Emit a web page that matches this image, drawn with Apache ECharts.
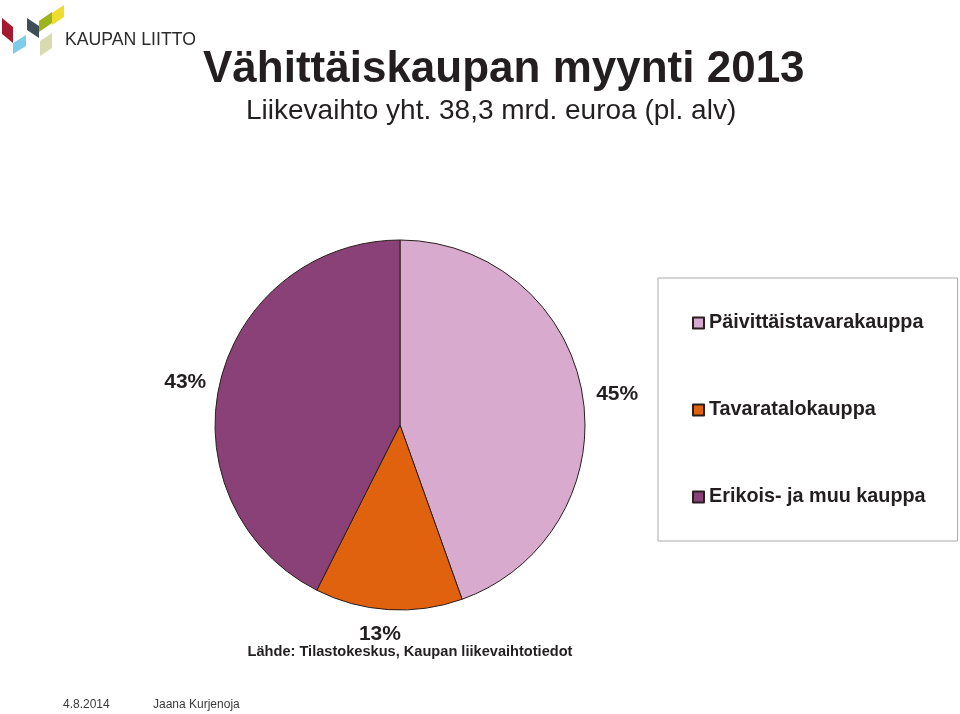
<!DOCTYPE html>
<html>
<head>
<meta charset="utf-8">
<script src="https://cdn.jsdelivr.net/npm/echarts@6/dist/echarts.min.js"></script>
<style>
html,body{margin:0;padding:0;background:#fff;}
#chart{width:960px;height:714px;}
</style>
</head>
<body>
<div id="chart"></div>
<script>
// ---- data ----
const categories = ['Päivittäistavarakauppa', 'Tavaratalokauppa', 'Erikois- ja muu kauppa'];
const shares = [45, 13, 43];
const sliceColors = ['#d8aacd', '#e0620f', '#8a4177'];
const titleText = 'Vähittäiskaupan myynti 2013';
const subtitleText = 'Liikevaihto yht. 38,3 mrd. euroa (pl. alv)';
const sourceText = 'Lähde: Tilastokeskus, Kaupan liikevaihtotiedot';
const footerDate = '4.8.2014';
const footerAuthor = 'Jaana Kurjenoja';
const logoText = 'KAUPAN LIITTO';

const FONT = '"Liberation Sans", Arial, Helvetica, sans-serif';
const TXT = '#231f20';

const chart = echarts.init(document.getElementById('chart'), null, {renderer: 'canvas'});

function poly(points, color) {
  return {type: 'polygon', shape: {points: points}, style: {fill: color}, silent: true};
}

const option = {
  backgroundColor: '#ffffff',
  animation: false,
  legend: {
    orient: 'vertical',
    left: 658,
    top: 278,
    padding: [35, 32, 34, 34],
    itemGap: 67,
    itemWidth: 11,
    itemHeight: 11,
    icon: 'rect',
    borderColor: '#a9a9a9',
    borderWidth: 1,
    textStyle: {fontFamily: FONT, fontSize: 19.8, fontWeight: 'bold', color: TXT, lineHeight: 20},
    data: categories
  },
  series: [{
    type: 'pie',
    center: [400, 425],
    radius: 185,
    startAngle: 90,
    clockwise: true,
    avoidLabelOverlap: false,
    itemStyle: {borderColor: '#2a1e1e', borderWidth: 1},
    label: {
      show: true,
      position: 'outside',
      formatter: '{c}%',
      fontFamily: FONT,
      fontSize: 21,
      fontWeight: 'bold',
      color: TXT,
      distanceToLabelLine: 5
    },
    labelLine: {show: false, length: 9, length2: 0},
    labelLayout: function (p) {
      if (p.dataIndex === 1) return {dx: 18, dy: 16};
      return {dx: 0, dy: 2};
    },
    emphasis: {disabled: true},
    data: categories.map((name, i) => ({name: name, value: shares[i], itemStyle: {color: sliceColors[i]}}))
  }],
  graphic: [
    // logo marks
    poly([[2,18],[13,27],[13,43],[2,34]], '#a5192e'),
    poly([[13,43],[26,35],[26,46],[13,54]], '#7fcbea'),
    poly([[27,18],[39,26],[39,38],[27,30]], '#3e4e59'),
    poly([[39,21],[52,12],[52,23],[39,32]], '#9db41f'),
    poly([[52,13],[64,5],[64,17],[52,25]], '#efdc2e'),
    poly([[40,41],[52,33],[52,48],[40,56]], '#d7dbae'),
    {type: 'text', x: 65, y: 40, scaleX: 0.93, silent: true,
      style: {x: 0, y: 0, text: logoText, font: '19px ' + FONT, fill: '#2b2b2b', textAlign: 'left', textVerticalAlign: 'middle'}},
    // title
    {type: 'text', x: 203, y: 70, silent: true,
      style: {x: 0, y: 0, text: titleText, font: 'bold 44px ' + FONT, fill: TXT, textAlign: 'left', textVerticalAlign: 'middle'}},
    {type: 'text', x: 246, y: 111, silent: true,
      style: {x: 0, y: 0, text: subtitleText, font: '28px ' + FONT, fill: TXT, textAlign: 'left', textVerticalAlign: 'middle'}},
    // source
    {type: 'text', x: 410, y: 652, silent: true,
      style: {x: 0, y: 0, text: sourceText, font: 'bold 14.6px ' + FONT, fill: TXT, textAlign: 'center', textVerticalAlign: 'middle'}},
    // footer
    {type: 'text', x: 63, y: 705, silent: true,
      style: {x: 0, y: 0, text: footerDate, font: '12px ' + FONT, fill: '#3a3a3a', textAlign: 'left', textVerticalAlign: 'middle'}},
    {type: 'text', x: 153, y: 705, silent: true,
      style: {x: 0, y: 0, text: footerAuthor, font: '12px ' + FONT, fill: '#3a3a3a', textAlign: 'left', textVerticalAlign: 'middle'}}
  ]
};
chart.setOption(option);
</script>
</body>
</html>
